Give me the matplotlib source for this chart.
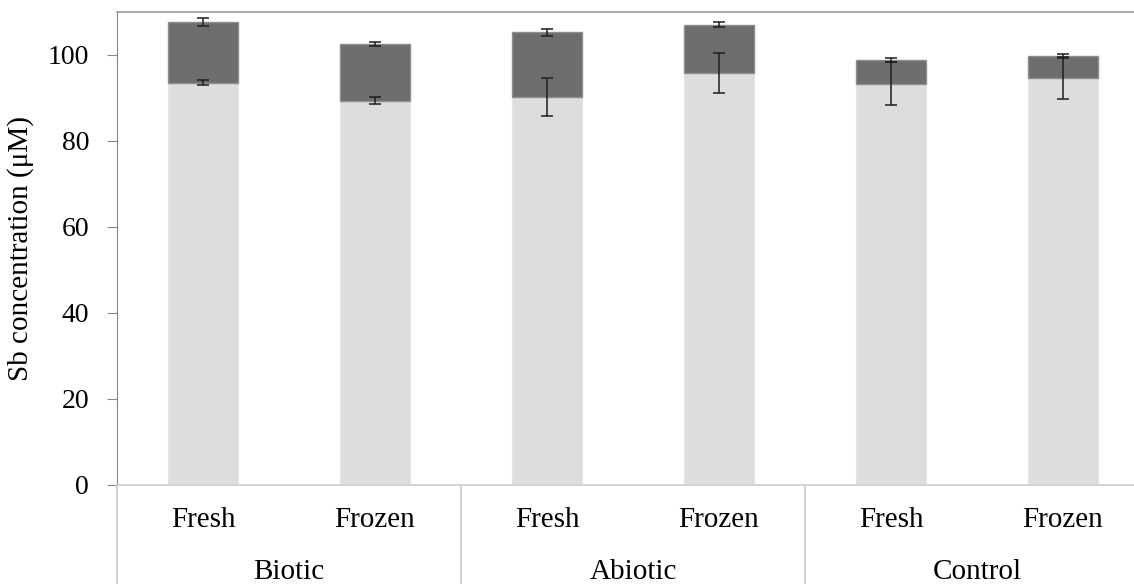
import numpy as np
import matplotlib
matplotlib.use('Agg')
import matplotlib.pyplot as plt
from matplotlib.lines import Line2D

plt.rcParams['font.family'] = ['Liberation Serif', 'DejaVu Serif']

groups = ['Biotic', 'Abiotic', 'Control']
conditions = ['Fresh', 'Frozen', 'Fresh', 'Frozen', 'Fresh', 'Frozen']
base_vals = [93.6, 89.4, 90.2, 95.8, 93.3, 94.7]
total_vals = [107.7, 102.6, 105.3, 107.0, 98.8, 99.8]
base_err = [0.55, 0.85, 4.5, 4.75, 5.0, 4.9]
total_err = [1.0, 0.4, 0.8, 0.6, 0.5, 0.4]

base = np.array(base_vals)
upper = np.array(total_vals) - base
x = np.arange(len(conditions))

fig = plt.figure(figsize=(11.34, 5.84), dpi=100)
ax = fig.add_axes([117 / 1134, 99 / 584, 1032 / 1134, 473 / 584])

w = 0.41
ax.bar(x, base, w, color='#dddddd', edgecolor='#e4e4e4', linewidth=0.8, zorder=2)
ax.bar(x, upper, w, bottom=base, color='#6d6d6d', edgecolor='#8e8e8e', linewidth=1.0, zorder=2)

# error bars on both stacked segments
ax.errorbar(x, base, yerr=base_err, fmt='none', ecolor='#1e1e1e', elinewidth=1.1,
            capsize=4.5, capthick=1.1, zorder=4)
ax.errorbar(x, base + upper, yerr=total_err, fmt='none', ecolor='#1e1e1e', elinewidth=1.1,
            capsize=4.5, capthick=1.1, zorder=4)

ax.set_xlim(-0.5, len(conditions) - 0.5)
ax.set_ylim(0, 110)
ax.set_yticks([0, 20, 40, 60, 80, 100])
ax.tick_params(axis='y', labelsize=20, length=7, color='#888888', pad=13)
ax.set_xticks([])
ax.set_ylabel('Sb concentration (\u03bcM)', fontsize=21, labelpad=10)

ax.spines['right'].set_visible(False)
ax.spines['left'].set_color('#888888')
ax.spines['top'].set_color('#a0a0a0')
ax.spines['top'].set_linewidth(1.3)
ax.spines['bottom'].set_color('#d0d0d0')
ax.spines['bottom'].set_linewidth(1.3)

# two-level category labels
trans = ax.get_xaxis_transform()
for xi, c in zip(x, conditions):
    ax.text(xi, -0.074, c, transform=trans, ha='center', va='center', fontsize=21)
for gi, g in enumerate(groups):
    ax.text(2 * gi + 0.5, -0.184, g, transform=trans, ha='center', va='center', fontsize=21)
for sep in [-0.5, 1.5, 3.5]:
    ax.add_line(Line2D([sep, sep], [0, -0.25], transform=trans, color='#d0d0d0',
                       linewidth=1.3, clip_on=False))

fig.savefig('out.png', dpi=100)
